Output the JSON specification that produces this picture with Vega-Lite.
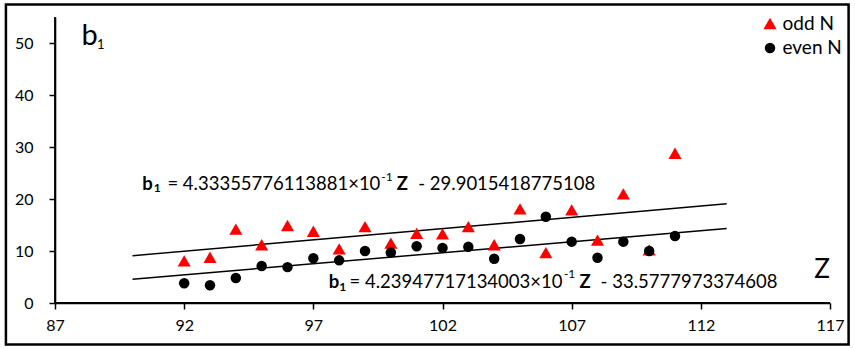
{
  "$schema": "https://vega.github.io/schema/vega-lite/v6.json",
  "width": 775,
  "height": 286,
  "autosize": {"type": "none"},
  "padding": {"left": 55, "top": 17, "right": 25, "bottom": 45},
  "background": "white",
  "config": {
    "view": {"stroke": null},
    "font": "Lato",
    "legend": {
      "orient": "none",
      "legendX": 705.5,
      "legendY": -3,
      "labelFont": "Lato",
      "labelFontSize": 19,
      "labelColor": "black",
      "rowPadding": 4.5,
      "labelOffset": 3,
      "padding": 0
    }
  },
  "datasets": {
    "points": [
      {"Z": 92, "b1": 8.1, "parity": "odd N"},
      {"Z": 93, "b1": 8.8, "parity": "odd N"},
      {"Z": 94, "b1": 14.2, "parity": "odd N"},
      {"Z": 95, "b1": 11.2, "parity": "odd N"},
      {"Z": 96, "b1": 14.9, "parity": "odd N"},
      {"Z": 97, "b1": 13.8, "parity": "odd N"},
      {"Z": 98, "b1": 10.4, "parity": "odd N"},
      {"Z": 99, "b1": 14.7, "parity": "odd N"},
      {"Z": 100, "b1": 11.5, "parity": "odd N"},
      {"Z": 101, "b1": 13.4, "parity": "odd N"},
      {"Z": 102, "b1": 13.3, "parity": "odd N"},
      {"Z": 103, "b1": 14.7, "parity": "odd N"},
      {"Z": 104, "b1": 11.2, "parity": "odd N"},
      {"Z": 105, "b1": 18.1, "parity": "odd N"},
      {"Z": 106, "b1": 9.7, "parity": "odd N"},
      {"Z": 107, "b1": 17.9, "parity": "odd N"},
      {"Z": 108, "b1": 12.1, "parity": "odd N"},
      {"Z": 109, "b1": 21.0, "parity": "odd N"},
      {"Z": 110, "b1": 10.2, "parity": "odd N"},
      {"Z": 111, "b1": 28.8, "parity": "odd N"},
      {"Z": 92, "b1": 3.8, "parity": "even N"},
      {"Z": 93, "b1": 3.4, "parity": "even N"},
      {"Z": 94, "b1": 4.8, "parity": "even N"},
      {"Z": 95, "b1": 7.1, "parity": "even N"},
      {"Z": 96, "b1": 6.9, "parity": "even N"},
      {"Z": 97, "b1": 8.6, "parity": "even N"},
      {"Z": 98, "b1": 8.2, "parity": "even N"},
      {"Z": 99, "b1": 10.0, "parity": "even N"},
      {"Z": 100, "b1": 9.7, "parity": "even N"},
      {"Z": 101, "b1": 10.9, "parity": "even N"},
      {"Z": 102, "b1": 10.6, "parity": "even N"},
      {"Z": 103, "b1": 10.8, "parity": "even N"},
      {"Z": 104, "b1": 8.5, "parity": "even N"},
      {"Z": 105, "b1": 12.3, "parity": "even N"},
      {"Z": 106, "b1": 16.6, "parity": "even N"},
      {"Z": 107, "b1": 11.8, "parity": "even N"},
      {"Z": 108, "b1": 8.7, "parity": "even N"},
      {"Z": 109, "b1": 11.8, "parity": "even N"},
      {"Z": 110, "b1": 10.0, "parity": "even N"},
      {"Z": 111, "b1": 12.9, "parity": "even N"}
    ],
    "trend": [
      {"Z": 90, "b1": 9.1005, "eq": "odd"},
      {"Z": 113, "b1": 19.0677, "eq": "odd"},
      {"Z": 90, "b1": 4.5775, "eq": "even"},
      {"Z": 113, "b1": 14.3283, "eq": "even"}
    ],
    "frame": [
      {"Z": 85.1, "Zend": 117.72, "b1": -8.0, "b1end": 57.4}
    ],
    "axisPaths": [
      {"seg": "xaxis", "k": 1, "Z": 87, "b1": 0},
      {"seg": "xaxis", "k": 2, "Z": 117, "b1": 0},
      {"seg": "yaxis", "k": 1, "Z": 87, "b1": 0},
      {"seg": "yaxis", "k": 2, "Z": 87, "b1": 55}
    ],
    "eqBold": [
      {"Z": 90.38, "b1": 21.8, "t": "b"},
      {"Z": 100.23, "b1": 21.8, "t": "Z"},
      {"Z": 97.6, "b1": 2.94, "t": "b"},
      {"Z": 107.3, "b1": 2.94, "t": "Z"}
    ],
    "eqSub": [
      {"Z": 90.82, "b1": 21.3, "t": "1"},
      {"Z": 98.0, "b1": 2.3, "t": "1"}
    ],
    "eqReg": [
      {"Z": 91.35, "b1": 21.8, "t": "= 4.33355776113881×10"},
      {"Z": 101.06, "b1": 21.8, "t": "- 29.9015418775108"},
      {"Z": 98.4, "b1": 2.94, "t": "= 4.23947717134003×10"},
      {"Z": 108.12, "b1": 2.94, "t": "- 33.5777973374608"}
    ],
    "eqSup": [
      {"Z": 99.63, "b1": 23.5, "t": "-1"},
      {"Z": 106.7, "b1": 4.73, "t": "-1"}
    ],
    "bigLabel": [
      {"Z": 88.03, "b1": 49.7, "t": "b"}
    ],
    "bigSub": [
      {"Z": 88.63, "b1": 48.85, "t": "1"}
    ],
    "zLabel": [
      {"Z": 117.0, "b1": 4.87, "t": "Z"}
    ]
  },
  "encoding": {
    "x": {
      "field": "Z",
      "type": "quantitative",
      "scale": {"domain": [87, 117], "nice": false, "zero": false},
      "axis": {
        "values": [87, 92, 97, 102, 107, 112, 117],
        "title": null,
        "grid": false,
        "domain": true,
        "domainColor": "#000000",
        "domainWidth": 1.6,
        "ticks": true,
        "tickColor": "#000000",
        "tickWidth": 1.5,
        "tickSize": 6,
        "labelFlush": false,
        "labelFont": "Lato",
        "labelFontSize": 16,
        "labelColor": "#000000",
        "labelPadding": 8,
        "zindex": 2
      }
    },
    "y": {
      "field": "b1",
      "type": "quantitative",
      "scale": {"domain": [0, 55], "nice": false, "zero": false},
      "axis": {
        "values": [0, 10, 20, 30, 40, 50],
        "title": null,
        "grid": false,
        "domain": true,
        "domainColor": "#000000",
        "domainWidth": 1.6,
        "ticks": true,
        "tickColor": "#000000",
        "tickWidth": 1.5,
        "tickSize": 6,
        "labelFlush": false,
        "labelFont": "Lato",
        "labelFontSize": 16,
        "labelColor": "#000000",
        "labelPadding": 16,
        "zindex": 2
      }
    }
  },
  "layer": [
    {
      "data": {"name": "frame"},
      "mark": {"type": "rect", "fillOpacity": 0, "stroke": "black", "strokeWidth": 2.5, "clip": false},
      "encoding": {
        "x2": {"field": "Zend"},
        "y2": {"field": "b1end"}
      }
    },
    {
      "data": {"name": "trend"},
      "mark": {"type": "line", "color": "black", "strokeWidth": 1.5},
      "encoding": {"detail": {"field": "eq"}}
    },
    {
      "data": {"name": "points"},
      "mark": {"type": "point", "filled": true, "opacity": 1},
      "encoding": {
        "color": {
          "field": "parity",
          "type": "nominal",
          "scale": {"domain": ["odd N", "even N"], "range": ["#FF0000", "#000000"]},
          "legend": {"title": null}
        },
        "shape": {
          "field": "parity",
          "type": "nominal",
          "scale": {"domain": ["odd N", "even N"], "range": ["triangle-up", "circle"]},
          "legend": {"title": null}
        },
        "size": {
          "field": "parity",
          "type": "nominal",
          "scale": {"domain": ["odd N", "even N"], "range": [170, 110]},
          "legend": {"title": null}
        }
      }
    },
    {
      "data": {"name": "eqBold"},
      "mark": {"type": "text", "fontSize": 18.5, "fontWeight": "bold", "align": "left", "baseline": "alphabetic", "color": "black"},
      "encoding": {"text": {"field": "t"}}
    },
    {
      "data": {"name": "eqSub"},
      "mark": {"type": "text", "fontSize": 12, "fontWeight": "bold", "align": "left", "baseline": "alphabetic", "color": "black"},
      "encoding": {"text": {"field": "t"}}
    },
    {
      "data": {"name": "eqReg"},
      "mark": {"type": "text", "fontSize": 18.5, "align": "left", "baseline": "alphabetic", "color": "black"},
      "encoding": {"text": {"field": "t"}}
    },
    {
      "data": {"name": "eqSup"},
      "mark": {"type": "text", "fontSize": 12, "align": "left", "baseline": "alphabetic", "color": "black"},
      "encoding": {"text": {"field": "t"}}
    },
    {
      "data": {"name": "bigLabel"},
      "mark": {"type": "text", "fontSize": 29, "align": "left", "baseline": "alphabetic", "color": "black"},
      "encoding": {"text": {"field": "t"}}
    },
    {
      "data": {"name": "bigSub"},
      "mark": {"type": "text", "fontSize": 13, "align": "left", "baseline": "alphabetic", "color": "black"},
      "encoding": {"text": {"field": "t"}}
    },
    {
      "data": {"name": "zLabel"},
      "mark": {"type": "text", "fontSize": 26, "align": "right", "baseline": "alphabetic", "color": "black"},
      "encoding": {"text": {"field": "t"}}
    },
    {
      "data": {"name": "axisPaths"},
      "mark": {"type": "line", "color": "black", "strokeWidth": 1.8},
      "encoding": {
        "detail": {"field": "seg"},
        "order": {"field": "k"}
      }
    }
  ]
}
